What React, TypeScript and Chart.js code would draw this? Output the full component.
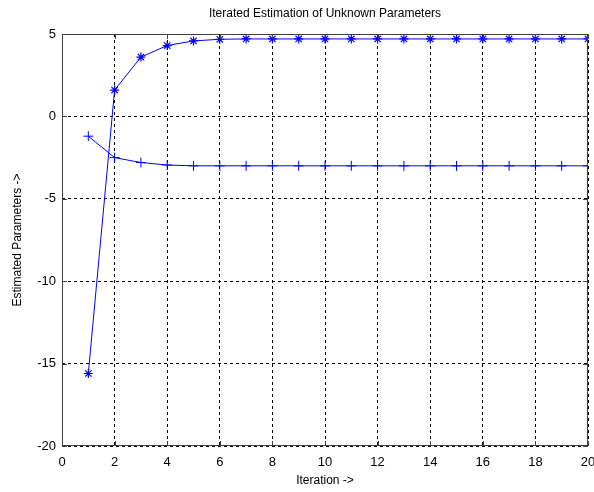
import React, { useEffect, useRef } from "react";
import { Chart, registerables } from "chart.js";

Chart.register(...registerables);

const iterations = [1, 2, 3, 4, 5, 6, 7, 8, 9, 10, 11, 12, 13, 14, 15, 16, 17, 18, 19, 20];
const paramA = [-15.6, 1.6, 3.6, 4.3, 4.58, 4.68, 4.7, 4.7, 4.7, 4.7, 4.7, 4.7, 4.7, 4.7, 4.7, 4.7, 4.7, 4.7, 4.7, 4.7];
const paramB = [-1.2, -2.5, -2.8, -2.95, -3, -3, -3, -3, -3, -3, -3, -3, -3, -3, -3, -3, -3, -3, -3, -3];
const titleText = "Iterated Estimation of Unknown Parameters";
const xTitle = "Iteration ->";
const yTitle = "Estimated Parameters ->";

const FONT = "'Liberation Sans', Arial, sans-serif";

const framePlugin = {
  id: "frame",
  afterDraw(chart: any) {
    const { ctx, chartArea } = chart;
    const { left, right, top, bottom } = chartArea;
    ctx.save();
    ctx.strokeStyle = "#404040";
    ctx.lineWidth = 1;
    ctx.setLineDash([]);
    ctx.strokeRect(left + 0.5, top + 0.5, right - left - 1, bottom - top - 1);
    const xs = chart.scales.x;
    const ys = chart.scales.y;
    ctx.beginPath();
    xs.ticks.forEach((t: any) => {
      const px = Math.round(xs.getPixelForValue(t.value)) + 0.5;
      ctx.moveTo(px, bottom);
      ctx.lineTo(px, bottom - 5);
      ctx.moveTo(px, top);
      ctx.lineTo(px, top + 5);
    });
    ys.ticks.forEach((t: any) => {
      const py = Math.round(ys.getPixelForValue(t.value)) + 0.5;
      ctx.moveTo(left, py);
      ctx.lineTo(left + 5, py);
      ctx.moveTo(right, py);
      ctx.lineTo(right - 5, py);
    });
    ctx.stroke();
    ctx.fillStyle = "#000";
    ctx.font = `12px ${FONT}`;
    ctx.textAlign = "center";
    ctx.textBaseline = "middle";
    ctx.fillText(titleText, (left + right) / 2, 14);
    ctx.restore();
  },
};

export default function App() {
  const ref = useRef<HTMLCanvasElement>(null);
  useEffect(() => {
    if (!ref.current) return;
    const chart = new Chart(ref.current, {
      type: "line",
      data: {
        labels: iterations,
        datasets: [
          {
            data: iterations.map((x, i) => ({ x, y: paramA[i] })),
            borderColor: "#0000ff",
            backgroundColor: "#0000ff",
            borderWidth: 1,
            pointStyle: "star",
            pointRadius: 4.5,
            pointBorderWidth: 1.2,
            pointBorderColor: "#0000ff",
          },
          {
            data: iterations.map((x, i) => ({ x, y: paramB[i] })),
            borderColor: "#0000ff",
            backgroundColor: "#0000ff",
            borderWidth: 1,
            pointStyle: "cross",
            pointRadius: 5,
            pointBorderWidth: 1,
            pointBorderColor: "#0000ff",
          },
        ],
      },
      options: {
        animation: false,
        responsive: false,
        layout: { padding: { top: 34, right: 6, left: 0, bottom: 0 } },
        plugins: { legend: { display: false }, tooltip: { enabled: false } },
        scales: {
          x: {
            type: "linear",
            min: 0,
            max: 20,
            ticks: { stepSize: 2, color: "#000", font: { family: FONT, size: 13 }, padding: 9 },
            grid: { color: "#000", lineWidth: 1, drawTicks: false },
            border: { display: false, dash: [3, 3] },
            title: { display: true, text: xTitle, color: "#000", font: { family: FONT, size: 12 }, padding: { top: 0 } },
            afterFit(scale: any) {
              scale.height = 46;
              scale.paddingLeft = 0;
              scale.paddingRight = 0;
            },
          },
          y: {
            type: "linear",
            min: -20,
            max: 5,
            ticks: { stepSize: 5, color: "#000", font: { family: FONT, size: 13 }, padding: 6 },
            grid: { color: "#000", lineWidth: 1, drawTicks: false },
            border: { display: false, dash: [3, 3] },
            title: { display: true, text: yTitle, color: "#000", font: { family: FONT, size: 12 }, padding: { top: 10, bottom: 4 } },
            afterFit(scale: any) {
              scale.width = 62;
            },
          },
        },
      },
      plugins: [framePlugin],
    } as any);
    return () => chart.destroy();
  }, []);
  return (
    <div style={{ position: "absolute", left: 0, top: 0, width: 594, height: 492, background: "#fff" }}>
      <canvas ref={ref} width={594} height={492} />
    </div>
  );
}
